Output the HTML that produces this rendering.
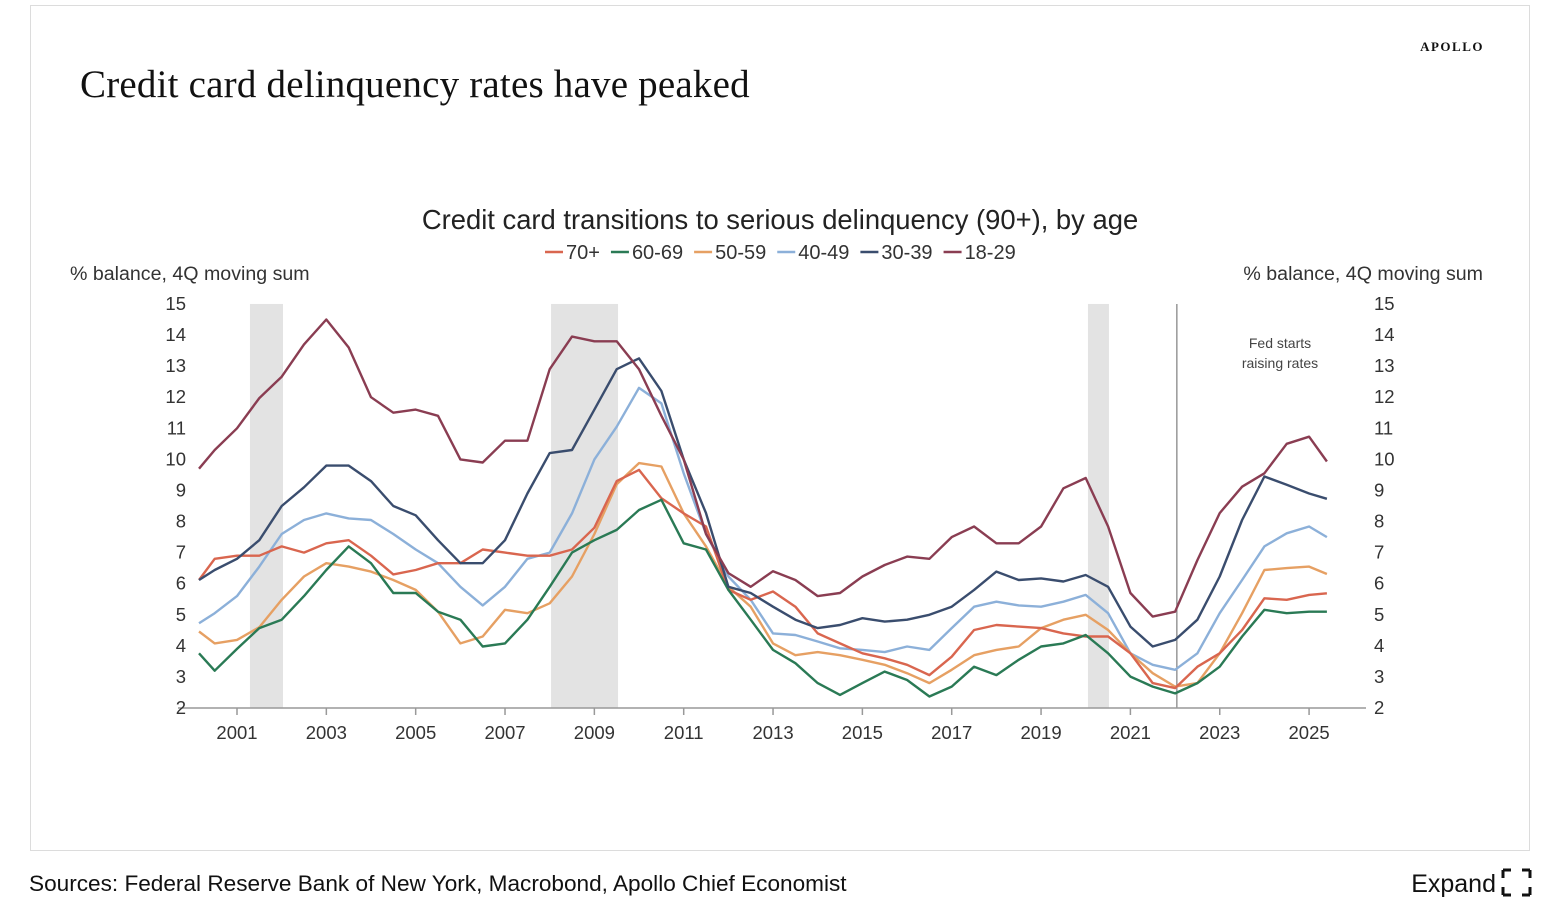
<!DOCTYPE html>
<html><head><meta charset="utf-8">
<style>
body{margin:0;background:#fff;width:1556px;height:910px;overflow:hidden;font-family:"Liberation Sans",sans-serif;}
svg{position:absolute;left:0;top:0}
</style></head>
<body>
<svg width="1556" height="910" id="chart">
  <rect x="30.5" y="5.5" width="1499" height="845" fill="#fff" stroke="#dcdcdc"/>
  <text x="80" y="97" font-family="Liberation Serif,serif" font-size="39" letter-spacing="0.2" fill="#111">Credit card delinquency rates have peaked</text>
  <text x="1484" y="51" text-anchor="end" font-family="Liberation Serif,serif" font-size="13" font-weight="bold" letter-spacing="1.5" fill="#111">APOLLO</text>
  <text x="780" y="229" text-anchor="middle" font-size="27.4" fill="#222">Credit card transitions to serious delinquency (90+), by age</text>
  <g id="legend"></g>
  <text x="70" y="280" font-size="19.6" fill="#333">% balance, 4Q moving sum</text>
  <text x="1483" y="280" text-anchor="end" font-size="19.6" fill="#333">% balance, 4Q moving sum</text>
  <g id="shade"></g>
  <g id="axes"></g>
  <g id="lines"></g>
  <text x="1280" y="348" text-anchor="middle" font-size="14" fill="#444">Fed starts</text>
  <text x="1280" y="368" text-anchor="middle" font-size="14" fill="#444">raising rates</text>
  <text x="29" y="891" font-size="22.6" fill="#111">Sources: Federal Reserve Bank of New York, Macrobond, Apollo Chief Economist</text>
  <g>
    <text x="1496" y="892" text-anchor="end" font-size="25" fill="#111">Expand</text>
    <path d="M1503 870h8M1503 870v8M1530 870h-8M1530 870v8M1503 895h8M1503 895v-8M1530 895h-8M1530 895v-8" stroke="#111" stroke-width="3" fill="none"/>
  </g>
</svg>
<script>
const dates=[2000.15,2000.5,2001,2001.5,2002,2002.5,2003,2003.5,2004,2004.5,2005,2005.5,2006,2006.5,2007,2007.5,2008,2008.5,2009,2009.5,2010,2010.5,2011,2011.5,2012,2012.5,2013,2013.5,2014,2014.5,2015,2015.5,2016,2016.5,2017,2017.5,2018,2018.5,2019,2019.5,2020,2020.5,2021,2021.5,2022,2022.5,2023,2023.5,2024,2024.5,2025,2025.4];
const s70=[6.12,6.8,6.9,6.9,7.2,7.0,7.3,7.4,6.9,6.3,6.44,6.66,6.66,7.1,7.0,6.9,6.9,7.1,7.8,9.3,9.66,8.75,8.26,7.84,5.8,5.48,5.75,5.26,4.4,4.08,3.76,3.6,3.39,3.06,3.65,4.51,4.67,4.62,4.57,4.4,4.3,4.3,3.76,2.8,2.64,3.33,3.76,4.51,5.53,5.48,5.64,5.69];
const s60=[3.76,3.2,3.9,4.57,4.84,5.6,6.44,7.2,6.66,5.7,5.7,5.1,4.84,3.98,4.08,4.84,5.9,7.0,7.4,7.73,8.37,8.7,7.3,7.1,5.8,4.84,3.87,3.44,2.8,2.42,2.8,3.17,2.9,2.37,2.69,3.33,3.06,3.55,3.98,4.08,4.35,3.76,3.01,2.69,2.47,2.8,3.33,4.3,5.16,5.05,5.1,5.1];
const s50=[4.46,4.08,4.19,4.6,5.48,6.23,6.66,6.55,6.39,6.12,5.8,5.1,4.08,4.3,5.16,5.05,5.37,6.23,7.6,9.2,9.88,9.77,8.26,7.2,5.9,5.26,4.08,3.7,3.8,3.7,3.55,3.39,3.12,2.8,3.23,3.7,3.87,3.98,4.57,4.84,5.0,4.51,3.76,3.12,2.69,2.8,3.76,5.05,6.44,6.5,6.55,6.31];
const s40=[4.73,5.05,5.6,6.55,7.6,8.05,8.26,8.1,8.05,7.6,7.1,6.66,5.9,5.3,5.9,6.8,7.0,8.26,10.0,11.05,12.3,11.8,9.55,7.6,6.23,5.48,4.4,4.35,4.14,3.92,3.87,3.8,3.98,3.87,4.57,5.26,5.42,5.3,5.26,5.42,5.64,5.05,3.76,3.39,3.23,3.76,5.05,6.12,7.2,7.62,7.84,7.5];
const s30=[6.12,6.44,6.8,7.4,8.5,9.1,9.8,9.8,9.3,8.5,8.2,7.4,6.66,6.66,7.4,8.9,10.2,10.3,11.6,12.9,13.25,12.2,10.0,8.27,5.9,5.7,5.26,4.84,4.57,4.67,4.89,4.78,4.84,5.0,5.26,5.8,6.39,6.12,6.17,6.07,6.28,5.9,4.62,3.98,4.19,4.84,6.23,8.05,9.45,9.18,8.9,8.73];
const s18=[9.7,10.3,11.0,11.97,12.66,13.7,14.5,13.6,12.0,11.5,11.6,11.4,10.0,9.9,10.6,10.6,12.9,13.95,13.8,13.8,12.9,11.4,10.0,7.6,6.34,5.9,6.4,6.12,5.6,5.7,6.23,6.6,6.87,6.8,7.5,7.84,7.3,7.3,7.84,9.07,9.4,7.84,5.7,4.94,5.1,6.76,8.27,9.12,9.55,10.5,10.73,9.93];
const seriesNames=["70+","60-69","50-59","40-49","30-39","18-29"];
const seriesColors=["#d9664f","#2a7a55","#e6a063","#8cb0d9","#3a4d6e","#8a3d52"];
const yTicks=[2,3,4,5,6,7,8,9,10,11,12,13,14,15];
const xTicks=[2001,2003,2005,2007,2009,2011,2013,2015,2017,2019,2021,2023,2025];
const recessions=[[2001.29,2002.03],[2008.03,2009.53],[2020.05,2020.52]];
const fedDate=2022.04;

const NS="http://www.w3.org/2000/svg";
const X=v=>237+(v-2001)*44.67;
const Y=v=>708-(v-2)*31.08;
function mk(tag,attrs,parent){const e=document.createElementNS(NS,tag);for(const k in attrs)e.setAttribute(k,attrs[k]);parent.appendChild(e);return e;}
const shade=document.getElementById('shade'),axes=document.getElementById('axes'),lines=document.getElementById('lines'),legend=document.getElementById('legend');
recessions.forEach((r,i)=>{
  const e=mk('rect',{x:X(r[0]),y:Y(15),width:X(r[1])-X(r[0]),height:Y(2)-Y(15),fill:'#e3e3e3'},shade);
  
  
});
const fl=mk('line',{x1:X(fedDate),x2:X(fedDate),y1:Y(15),y2:Y(2),stroke:'#888','stroke-width':1.3},axes);


const xa=mk('line',{x1:178,x2:1366,y1:708,y2:708,stroke:'#999','stroke-width':1.5},axes);


xTicks.forEach(t=>{
  mk('line',{x1:X(t),x2:X(t),y1:708,y2:715,stroke:'#999','stroke-width':1.5},axes);
  const tx=mk('text',{x:X(t),y:739,'text-anchor':'middle','font-size':18.5,fill:'#333'},axes);
  tx.textContent=t;
  
  
});
yTicks.forEach(t=>{
  const a=mk('text',{x:186,y:Y(t)+6,'text-anchor':'end','font-size':18.5,fill:'#333'},axes);
  a.textContent=t;
  
  
  const b=mk('text',{x:1374,y:Y(t)+6,'font-size':18.5,fill:'#333'},axes);
  b.textContent=t;
  
  
});
const all=[s70,s60,s50,s40,s30,s18];
const order=[3,2,0,1,4,5];
order.forEach(i=>{
  const d=all[i].map((v,j)=>(j?'L':'M')+X(dates[j]).toFixed(1)+' '+Y(v).toFixed(1)).join('');
  const p=mk('path',{d:d,fill:'none',stroke:seriesColors[i],'stroke-width':2.4,'stroke-linejoin':'round'},lines);
  
  
});
let lx=545;
seriesNames.forEach((n,i)=>{
  mk('line',{x1:lx,x2:lx+18,y1:252,y2:252,stroke:seriesColors[i],'stroke-width':2.5},legend);
  const t=mk('text',{x:lx+21,y:259,'font-size':20,fill:'#333'},legend);
  t.textContent=n;
  
  
  lx+=21+t.getComputedTextLength()+11;
});
</script>
</body></html>
